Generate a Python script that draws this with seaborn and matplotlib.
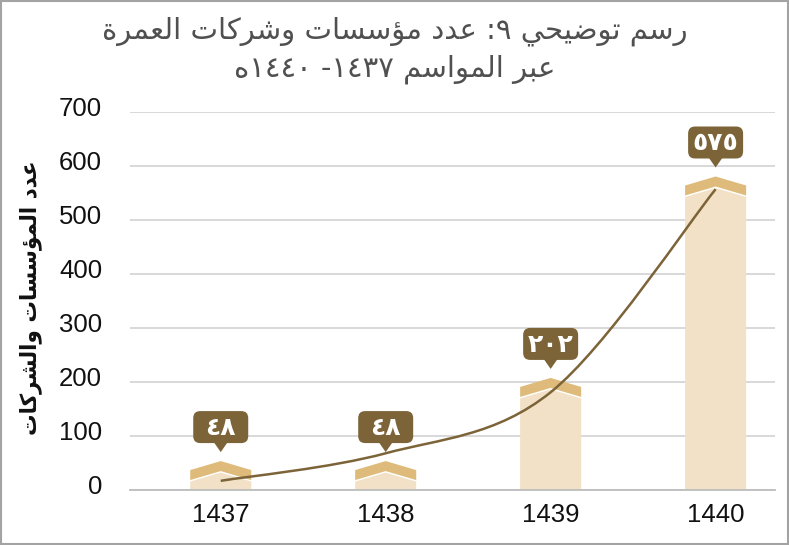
import re
import numpy as np
import pandas as pd
import matplotlib
matplotlib.use("Agg")
import matplotlib.pyplot as plt
import matplotlib.transforms as mtransforms
from matplotlib.patches import Polygon, FancyBboxPatch, Rectangle, PathPatch
from matplotlib.path import Path
import seaborn as sns

# data
seasons = ["1437", "1438", "1439", "1440"]
counts = [48, 48, 202, 575]
trend = [17, 68, 181, 557]          # smoothed trend curve, read at each season
yticks = [0, 100, 200, 300, 400, 500, 600, 700]

title_lines = ["رسم توضيحي ٩: عدد مؤسسات وشركات العمرة",
               "عبر المواسم ١٤٣٧- ١٤٤٠ه"]
ylabel = "عدد المؤسسات والشركات"

BAR = "#f2e1c6"
BAND = "#dfbb7b"
BROWN = "#7c6438"

# --- minimal Arabic shaping (matplotlib does no joining / bidi) ---
AR_FORMS = {
    "\u0624": ("\uFE85", "\uFE86", None, None),
    "\u0627": ("\uFE8D", "\uFE8E", None, None),
    "\u0628": ("\uFE8F", "\uFE90", "\uFE91", "\uFE92"),
    "\u0629": ("\uFE93", "\uFE94", None, None),
    "\u062A": ("\uFE95", "\uFE96", "\uFE97", "\uFE98"),
    "\u062D": ("\uFEA1", "\uFEA2", "\uFEA3", "\uFEA4"),
    "\u062F": ("\uFEA9", "\uFEAA", None, None),
    "\u0631": ("\uFEAD", "\uFEAE", None, None),
    "\u0633": ("\uFEB1", "\uFEB2", "\uFEB3", "\uFEB4"),
    "\u0634": ("\uFEB5", "\uFEB6", "\uFEB7", "\uFEB8"),
    "\u0636": ("\uFEBD", "\uFEBE", "\uFEBF", "\uFEC0"),
    "\u0639": ("\uFEC9", "\uFECA", "\uFECB", "\uFECC"),
    "\u0643": ("\uFED9", "\uFEDA", "\uFEDB", "\uFEDC"),
    "\u0644": ("\uFEDD", "\uFEDE", "\uFEDF", "\uFEE0"),
    "\u0645": ("\uFEE1", "\uFEE2", "\uFEE3", "\uFEE4"),
    "\u0647": ("\uFEE9", "\uFEEA", "\uFEEB", "\uFEEC"),
    "\u0648": ("\uFEED", "\uFEEE", None, None),
    "\u064A": ("\uFEF1", "\uFEF2", "\uFEF3", "\uFEF4"),
}


def joins_next(ch):
    return ch in AR_FORMS and AR_FORMS[ch][2] is not None


def joins_prev(ch):
    return ch in AR_FORMS


def shape(s):
    out = []
    for i, ch in enumerate(s):
        if ch not in AR_FORMS:
            out.append(ch)
            continue
        prev = s[i - 1] if i > 0 else ""
        nxt = s[i + 1] if i + 1 < len(s) else ""
        p = joins_next(prev)
        n = joins_next(ch) and joins_prev(nxt)
        iso, fin, ini, med = AR_FORMS[ch]
        out.append(med if p and n else fin if p else ini if n else iso)
    return "".join(out)


def rtl(s):
    s = shape(s)
    runs = re.findall(r"[\u0660-\u06690-9]+|[^\u0660-\u06690-9]+", s)
    return "".join(r if r[0].isdigit() else r[::-1] for r in reversed(runs))


def arabic_digits(v):
    return str(v).translate(str.maketrans("0123456789", "٠١٢٣٤٥٦٧٨٩"))


sns.set_style("white")
plt.rcParams["font.family"] = ["DejaVu Sans"]

df = pd.DataFrame({"season": seasons, "count": counts})

fig = plt.figure(figsize=(7.89, 5.45), dpi=100)
ax = fig.add_axes([130 / 789, 55 / 545, 645 / 789, 378 / 545])

sns.barplot(data=df, x="season", y="count", color=BAR, saturation=1,
            width=0.37, ax=ax, zorder=2)

ax.set_ylim(0, 700)
ax.set_xlim(-0.55, 3.36)
ax.set_yticks(yticks)
ax.yaxis.grid(True, color="#d6d6d6", lw=1.3)
ax.set_axisbelow(True)
for side in ["top", "right", "left"]:
    ax.spines[side].set_visible(False)
ax.spines["bottom"].set_color("#bdbdbd")
ax.spines["bottom"].set_linewidth(1.3)
ax.tick_params(axis="both", length=0, labelsize=18.5, colors="#111111")
ax.tick_params(axis="y", pad=20)
ax.tick_params(axis="x", pad=9.5)
for t in ax.get_xticklabels() + ax.get_yticklabels():
    t.set_fontfamily("Liberation Sans")
# y tick labels sit a few pixels above their gridlines in the original
lift = mtransforms.ScaledTranslation(0, 4 / 72, fig.dpi_scale_trans)
for t in ax.get_yticklabels():
    t.set_transform(t.get_transform() + lift)
ax.set_xlabel("")
ax.set_ylabel(rtl(ylabel), fontsize=15.5, fontweight="bold", color="#111111")
ax.yaxis.set_label_coords(-0.136, 0.51)

# units per pixel on the y axis
upx = 700 / 378.0

# replace plain bars with the pointed "house" bars
peaks = []
for p in ax.patches[:len(counts)]:
    x0, w, v = p.get_x(), p.get_width(), p.get_height()
    x1, xc = x0 + w, x0 + w / 2
    peak = v + 3 * upx
    shoulder = peak - 9 * upx
    in_peak = peak - 10 * upx
    in_side = shoulder - 10 * upx
    gap = 1.5 * upx
    p.set_visible(False)
    ax.add_patch(Polygon([(x0, 0), (x1, 0), (x1, in_side - gap),
                          (xc, in_peak - gap), (x0, in_side - gap)],
                         closed=True, fc=BAR, ec="none", zorder=2))
    ax.add_patch(Polygon([(x0, shoulder), (xc, peak), (x1, shoulder),
                          (x1, in_side), (xc, in_peak), (x0, in_side)],
                         closed=True, fc=BAND, ec="none", zorder=2))
    peaks.append((xc, peak))

# smooth trend curve (bezier through the read points)
pts = np.column_stack([np.arange(len(trend)), trend]).astype(float)
ext = np.vstack([pts[0], pts, pts[-1]])
verts, codes = [pts[0]], [Path.MOVETO]
for i in range(len(pts) - 1):
    q0, q1, q2, q3 = ext[i], ext[i + 1], ext[i + 2], ext[i + 3]
    verts += [q1 + (q2 - q0) / 6, q2 - (q3 - q1) / 6, q2]
    codes += [Path.CURVE4] * 3
ax.add_patch(PathPatch(Path(verts, codes), fc="none", ec=BROWN, lw=1.8,
                       zorder=3, capstyle="butt"))

ax.set_ylim(0, 700)
ax.set_xlim(-0.55, 3.36)

# callout labels, sized in pixels
ident = mtransforms.IdentityTransform()
box_w, box_h = 55, 32
for (xc, peak), v in zip(peaks, counts):
    tx, ty = ax.transData.transform((xc, peak))
    ty += 9
    bottom = ty + 9
    fig.add_artist(FancyBboxPatch((tx - box_w / 2, bottom), box_w, box_h,
                                  boxstyle="round,pad=0,rounding_size=7",
                                  transform=ident, fc=BROWN, ec="none"))
    fig.add_artist(Polygon([(tx - 7, bottom + 1), (tx + 7, bottom + 1), (tx, ty)],
                           closed=True, transform=ident, fc=BROWN, ec="none"))
    fig.text(tx, bottom + box_h / 2 - 1, arabic_digits(v), transform=ident,
             ha="center", va="center", color="white", fontsize=18,
             fontweight="bold")

fig.text(0.5, 0.943, rtl(title_lines[0]), ha="center", va="center",
         fontsize=21, color="#505050")
fig.text(0.5, 0.873, rtl(title_lines[1]), ha="center", va="center",
         fontsize=21, color="#505050")

fig.add_artist(Rectangle((0.0015, 0.002), 0.997, 0.996, transform=fig.transFigure,
                         fill=False, ec="#a3a3a3", lw=1.5))

fig.savefig("out.png", dpi=100)
